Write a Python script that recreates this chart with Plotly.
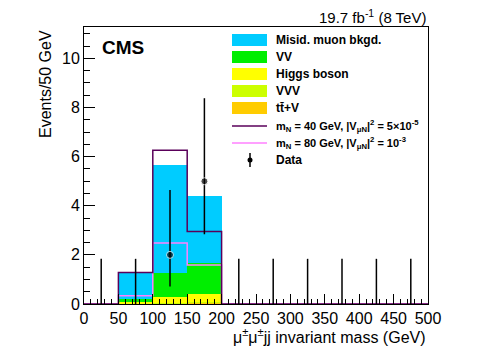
import plotly.graph_objects as go

# 50 GeV bins from 0 to 500
edges = [0, 50, 100, 150, 200, 250, 300, 350, 400, 450, 500]
centers = [25, 75, 125, 175, 225, 275, 325, 375, 425, 475]

# stacked backgrounds (bottom -> top)
ttv = [0, 0.02, 0.03, 0.05, 0, 0, 0, 0, 0, 0]
vvv = [0, 0.02, 0.02, 0.03, 0, 0, 0, 0, 0, 0]
higgs = [0, 0.06, 0.22, 0.34, 0, 0, 0, 0, 0, 0]
vv = [0, 0.10, 0.98, 1.27, 0, 0, 0, 0, 0, 0]
misid = [0, 1.05, 4.40, 2.69, 0, 0, 0, 0, 0, 0]

# signal hypotheses
sig40 = [0, 1.28, 6.26, 2.95, 0, 0, 0, 0, 0, 0]
sig80 = [0, 0.34, 2.48, 1.59, 0, 0, 0, 0, 0, 0]

# data with poisson errors
data = [0, 0, 2, 5, 0, 0, 0, 0, 0, 0]
err_up = [1.84, 1.84, 2.64, 3.38, 1.84, 1.84, 1.84, 1.84, 1.84, 1.84]
err_dn = [0, 0, 1.29, 2.16, 0, 0, 0, 0, 0, 0]

leg_names = ['Misid. muon bkgd.', 'VV', 'Higgs boson', 'VVV', 'tt\u0304+V']
leg_colors = ['#00ccff', '#00ee00', '#ffff00', '#ccff00', '#ffcc00']
c40 = '#5a005a'
c80 = '#ff80ff'

font = 'Liberation Sans, Arial, sans-serif'

fig = go.Figure()

stack = [(ttv, '#ffcc00'), (vvv, '#ccff00'), (higgs, '#ffff00'), (vv, '#00ee00'), (misid, '#00ccff')]
for vals, col in stack:
    fig.add_trace(go.Bar(x=centers, y=vals, width=50, marker=dict(color=col, line=dict(width=0)),
                         showlegend=False, hoverinfo='skip'))

fig.add_trace(go.Scatter(x=edges, y=sig80 + [sig80[-1]], mode='lines', line=dict(color=c80, width=1.5, shape='hv'),
                         showlegend=False))
fig.add_trace(go.Scatter(x=edges, y=sig40 + [sig40[-1]], mode='lines', line=dict(color=c40, width=1.5, shape='hv'),
                         showlegend=False))

msize = [7 if d > 0 else 0 for d in data]
fig.add_trace(go.Scatter(x=centers, y=data, mode='markers', marker=dict(color='black', size=msize),
                         error_y=dict(type='data', array=err_up, arrayminus=err_dn, symmetric=False,
                                      width=0, thickness=1.5, color='black'),
                         showlegend=False))

# manual ROOT-style legend (pixel positions of the page -> paper coords)
def px(x):
    return (x - 84) / 344.0

def py(y):
    return (304 - y) / 277.0

legfont = dict(family=font, size=12, color='black')
shapes = []
annotations = []
row_y = [40, 57, 74, 91, 108, 126, 143, 160]
for i in range(5):
    shapes.append(dict(type='rect', xref='paper', yref='paper', x0=px(232), x1=px(267),
                       y0=py(row_y[i] + 6), y1=py(row_y[i] - 6), fillcolor=leg_colors[i], line=dict(width=0)))
    annotations.append(dict(xref='paper', yref='paper', x=px(274), y=py(row_y[i]), xanchor='left', yanchor='middle',
                            text='<b>' + leg_names[i] + '</b>', showarrow=False, font=legfont))
for i, (col, txt) in enumerate([(c40, 'm<sub>N</sub> = 40 GeV, |V<sub>μN</sub>|<sup>2</sup> = 5×10<sup>-5</sup>'),
                                (c80, 'm<sub>N</sub> = 80 GeV, |V<sub>μN</sub>|<sup>2</sup> = 10<sup>-3</sup>')]):
    yy = row_y[5 + i]
    shapes.append(dict(type='line', xref='paper', yref='paper', x0=px(232), x1=px(267), y0=py(yy), y1=py(yy),
                       line=dict(color=col, width=1.5)))
    annotations.append(dict(xref='paper', yref='paper', x=px(274), y=py(yy), xanchor='left', yanchor='middle',
                            text='<b>' + txt + '</b>', showarrow=False, font=dict(family=font, size=11, color='black')))
shapes.append(dict(type='line', xref='paper', yref='paper', x0=px(250), x1=px(250), y0=py(167), y1=py(153),
                   line=dict(color='black', width=1.5)))
shapes.append(dict(type='circle', xref='paper', yref='paper', x0=px(247.5), x1=px(252.5), y0=py(162.5), y1=py(157.5),
                   fillcolor='black', line=dict(color='black', width=0)))
annotations.append(dict(xref='paper', yref='paper', x=px(274), y=py(160), xanchor='left', yanchor='middle',
                        text='<b>Data</b>', showarrow=False, font=legfont))

annotations.append(dict(xref='paper', yref='paper', x=1.0, y=py(17), xanchor='right', yanchor='middle',
                        text='19.7 fb<sup>-1</sup> (8 TeV)', showarrow=False, font=dict(family=font, size=15, color='black')))
annotations.append(dict(xref='paper', yref='paper', x=px(100), y=py(47), xanchor='left', yanchor='middle',
                        text='<b>CMS</b>', showarrow=False, font=dict(family=font, size=19, color='black')))
annotations.append(dict(xref='paper', yref='paper', x=1.0, y=py(336), xanchor='right', yanchor='middle',
                        text='μ<sup>±</sup>μ<sup>±</sup>jj invariant mass (GeV)', showarrow=False,
                        font=dict(family=font, size=16, color='black')))
annotations.append(dict(xref='paper', yref='paper', x=px(45), y=py(84), xanchor='center', yanchor='middle',
                        text='Events/50 GeV', textangle=-90, showarrow=False,
                        font=dict(family=font, size=16, color='black')))

# the page body adds an 8px offset, so margins are shifted to keep the frame at 84..428 x 27..304
fig.update_layout(
    width=498, height=358,
    margin=dict(l=76, r=78, t=19, b=62),
    barmode='stack', bargap=0,
    paper_bgcolor='white', plot_bgcolor='white',
    font=dict(family=font, size=16, color='black'),
    shapes=shapes, annotations=annotations,
    showlegend=False,
)
fig.update_xaxes(range=[0, 500], tickvals=[0, 50, 100, 150, 200, 250, 300, 350, 400, 450, 500],
                 ticks='inside', ticklen=10, tickcolor='black', showline=True, linecolor='black', linewidth=1,
                 mirror=True, showgrid=False, zeroline=False, tickfont=dict(size=16),
                 minor=dict(dtick=10, ticks='inside', ticklen=5, tickcolor='black'))
fig.update_yaxes(range=[0, 11.28], tickvals=[0, 2, 4, 6, 8, 10],
                 ticks='inside', ticklen=11, tickcolor='black', showline=True, linecolor='black', linewidth=1,
                 mirror=True, showgrid=False, zeroline=False, tickfont=dict(size=16),
                 minor=dict(dtick=0.5, ticks='inside', ticklen=6, tickcolor='black'))

fig.write_html("out.html")
